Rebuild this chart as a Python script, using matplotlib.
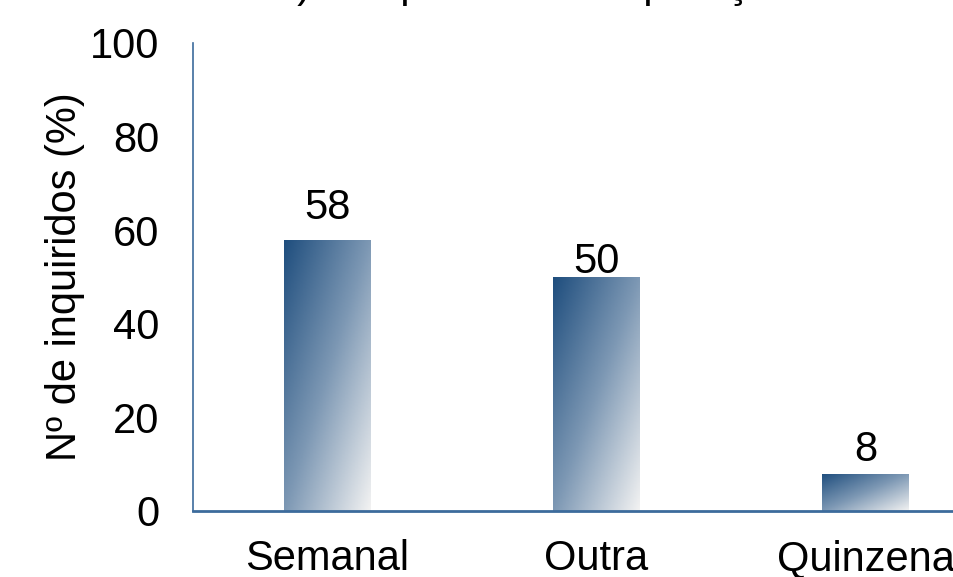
import matplotlib.pyplot as plt
import numpy as np
from matplotlib.colors import LinearSegmentedColormap

plt.rcParams['font.family'] = ['Liberation Sans', 'DejaVu Sans']

categories = ['Semanal', 'Outra', 'Quinzena']
values = [58, 50, 8]
title = 'b) Tempo entre as operações'

# gradient used by the bars: dark blue top-left -> almost white bottom-right
cmap = LinearSegmentedColormap.from_list('barfade', ['#1f4e7e', '#7d98b4', '#f2f2f2'])

fig = plt.figure(figsize=(9.54, 5.77), dpi=100)
ax = fig.add_axes([193 / 954, 1 - 511 / 577, 807 / 954, 468 / 577])

x = np.arange(len(categories))
bars = ax.bar(x, values, width=0.32, color='none', edgecolor='none')

# diagonal gradient image, clipped to every bar
gy, gx = np.mgrid[0:1:200j, 0:1:60j]
grad = (gx + gy) / 2
for b in bars:
    x0, y0 = b.get_x(), b.get_y()
    w, h = b.get_width(), b.get_height()
    im = ax.imshow(grad, cmap=cmap, extent=[x0, x0 + w, y0, y0 + h],
                   origin='upper', aspect='auto', zorder=2)
    im.set_clip_path(b)

# value labels (Excel placed them a bit unevenly), gap in pixels
label_gap = [12, -5, 4]
for xi, v, gap in zip(x, values, label_gap):
    ax.annotate(str(v), (xi, v), xytext=(0, gap * 0.72), textcoords='offset points',
                ha='center', va='bottom', fontsize=30, zorder=3)

ax.set_xlim(-0.5, 2.5)
ax.set_ylim(0, 100)
ax.set_yticks(np.arange(0, 101, 20))
ax.set_xticks(x)
ax.set_xticklabels(categories)
ax.tick_params(axis='both', length=0, labelsize=30)
ax.tick_params(axis='y', pad=24)
ax.tick_params(axis='x', pad=20.5)
ax.set_ylabel('Nº de inquiridos (%)', fontsize=30, labelpad=4)

for s in ['top', 'right']:
    ax.spines[s].set_visible(False)
ax.spines['left'].set_color('#3c6b9c')
ax.spines['left'].set_linewidth(1.2)
ax.spines['bottom'].set_color('#3c6b9c')
ax.spines['bottom'].set_linewidth(2)

# title sits above the visible area; only its descenders show
fig.text(274 / 954, 1.0 + 3 / 577, title, fontsize=30, ha='left', va='baseline')

fig.savefig('out.png', dpi=100)
